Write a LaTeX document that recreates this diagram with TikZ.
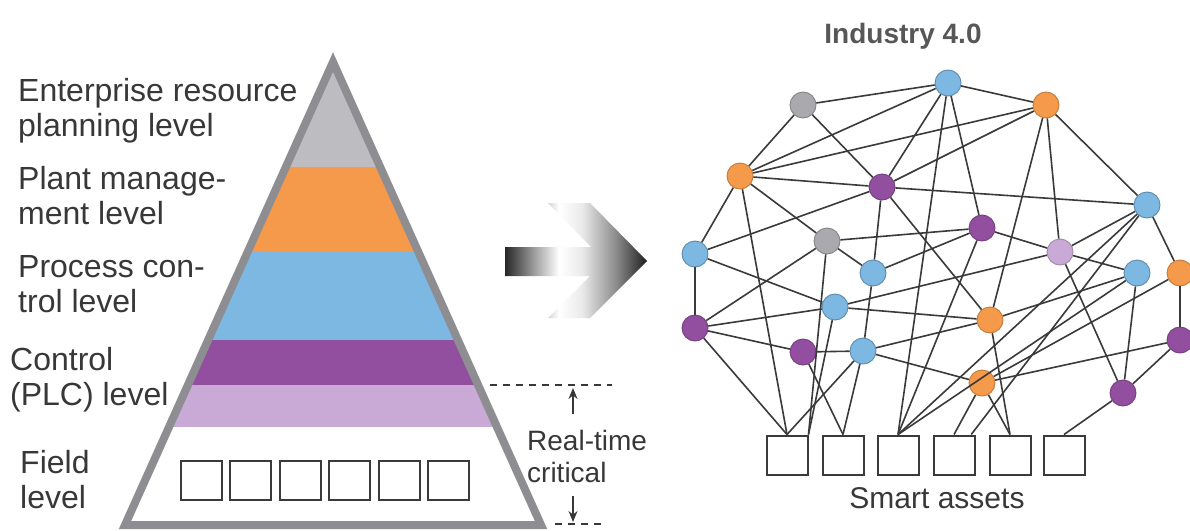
\documentclass[tikz,border=0pt]{standalone}
\usepackage{fontspec}
\setmainfont{Liberation Sans}
\usetikzlibrary{calc,arrows.meta}
\definecolor{pgray}{HTML}{BDBDC1}
\definecolor{pborder}{HTML}{8E8E92}
\definecolor{porange}{HTML}{F5994B}
\definecolor{pblue}{HTML}{7DB8E3}
\definecolor{ppurple}{HTML}{924E9F}
\definecolor{plav}{HTML}{C9A9D5}
\definecolor{txt}{HTML}{383838}
\definecolor{edge}{HTML}{3A3A3A}
\pgfdeclarehorizontalshading{arrowshade}{100bp}{color(0bp)=(black!85); color(25bp)=(black!85); color(36bp)=(black!35); color(44bp)=(white); color(52bp)=(white!92!black); color(64bp)=(black!45); color(75bp)=(black!88); color(100bp)=(black!88)}
\tikzset{
  lbl/.style={font=\fontsize{32}{35}\selectfont, text=txt, align=left, inner sep=0pt},
  nd/.style={circle, minimum size=26pt, inner sep=0pt, line width=0.9pt},
  ngray/.style={nd, fill=pgray!90!black, draw=pgray!70!black},
  nblue/.style={nd, fill=pblue, draw=pblue!75!black},
  norange/.style={nd, fill=porange, draw=porange!80!black},
  npurple/.style={nd, fill=ppurple, draw=ppurple!80!black},
  nlav/.style={nd, fill=plav, draw=plav!80!black},
  asset/.style={draw=edge, line width=2pt, fill=white, minimum width=41pt, minimum height=39pt, inner sep=0pt},
  ln/.style={draw=edge, line width=1.6pt},
  dash line/.style={draw=txt, line width=1.3pt, dash pattern=on 7pt off 6pt},
  rt arrow/.style={draw=txt, line width=1.3pt, -{Stealth[length=11pt,width=9pt]}}
}
\begin{document}
\begin{tikzpicture}[x=1pt,y=-1pt]
\useasboundingbox (0,0) rectangle (1190,530);
\fill[white] (0,0) rectangle (1190,530);

% ---------- pyramid ----------
\begin{scope}
  \clip (333,62) -- (125,525) -- (541,525) -- cycle;
  \fill[pgray]   (100,40)  rectangle (560,167);
  \fill[porange] (100,167) rectangle (560,252);
  \fill[pblue]   (100,252) rectangle (560,340);
  \fill[ppurple] (100,340) rectangle (560,385);
  \fill[plav]    (100,385) rectangle (560,427);
\end{scope}
\draw[pborder, line width=8pt, line join=miter] (333,62) -- (125,525) -- (541,525) -- cycle;

\foreach \i in {0,...,5}{
  \node[asset] (f\i) at ({201+49.5*\i},480) {};
}

% ---------- level labels ----------
\node[lbl, anchor=north west] (l1) at (18,78)  {Enterprise resource\\planning level};
\node[lbl, anchor=north west] (l2) at (18,166) {Plant manage-\\ment level};
\node[lbl, anchor=north west] (l3) at (18,255) {Process con-\\trol level};
\node[lbl, anchor=north west] (l4) at (10,347) {Control\\(PLC) level};
\node[lbl, anchor=north west] (l5) at (20,450) {Field\\level};

% ---------- real-time critical ----------
\coordinate (d1a) at (490,385);
\coordinate (d1b) at (612,385);
\coordinate (d2a) at (555,524);
\coordinate (d2b) at (606,524);
\draw[dash line] (d1a) -- (d1b);
\draw[dash line] (d2a) -- (d2b);
\node[font=\fontsize{28}{32}\selectfont, text=txt, align=left, anchor=west, inner sep=0pt] (rt) at (527,456) {Real-time\\critical};
\coordinate (u0) at (573,414);
\coordinate (u1) at (573,388);
\coordinate (v0) at (573,496);
\coordinate (v1) at (573,522);
\draw[rt arrow] (u0) -- (u1);
\draw[rt arrow] (v0) -- (v1);

% ---------- big arrow ----------
\shade[shading=arrowshade] (505,247) -- (591,247) -- (548,203) -- (590,203) -- (647,261) -- (590,318) -- (548,318) -- (590,276) -- (505,276) -- cycle;

% ---------- Industry 4.0 ----------
\node[font=\fontsize{28}{32}\selectfont\bfseries, text=black!66] (title) at (903,36) {Industry 4.0};

\node[ngray]   (A) at (803,105) {};
\node[nblue]   (B) at (948,83) {};
\node[norange] (C) at (1046,105) {};
\node[norange] (D) at (740,176) {};
\node[npurple] (E) at (882,187) {};
\node[nblue]   (F) at (1147,205) {};
\node[ngray]   (G) at (827,241) {};
\node[npurple] (H) at (982,228) {};
\node[nlav]    (I) at (1060,252) {};
\node[nblue]   (J) at (695,254) {};
\node[nblue]   (K) at (873,273) {};
\node[nblue]   (L) at (1137,273) {};
\node[norange] (M) at (1180,273) {};
\node[nblue]   (N) at (835,307) {};
\node[norange] (O) at (990,320) {};
\node[npurple] (P) at (695,328) {};
\node[npurple] (Q) at (803,352) {};
\node[nblue]   (R) at (863,351) {};
\node[npurple] (S) at (1180,340) {};
\node[norange] (T) at (982,383) {};
\node[npurple] (U) at (1123,393) {};

\foreach \i/\x in {1/787,2/843,3/898,4/954,5/1010,6/1064}{
  \node[asset] (b\i) at (\x,455) {};
}
\node[font=\fontsize{30}{34}\selectfont, text=txt] (sa) at (937,498) {Smart assets};

% edges
\foreach \a/\b in {A/B,A/D,A/E,B/C,B/D,B/E,B/H,C/D,C/E,C/F,C/I,C/O,D/E,D/G,D/J,
  E/F,E/J,E/K,E/O,F/I,F/M,G/H,G/K,G/P,H/I,H/K,I/L,I/N,I/U,L/O,L/U,M/S,M/T,
  N/J,N/P,N/O,O/R,P/J,P/Q,Q/R,R/K,R/T,S/T,S/U}{
  \draw[ln] (\a) -- (\b);
}
\foreach \a/\b in {B/b3,D/b1,P/b1,R/b1,Q/b2,R/b2,H/b3,F/b3,L/b3,T/b4,T/b5,O/b5,U/b6}{
  \draw[ln] (\a) -- (\b.north);
}
\draw[ln] (G) -- (b1.north east);
\draw[ln] (N) -- (b1.north east);
\draw[ln] (F) -- ($(b4.north)!0.8!(b4.north east)$);
\end{tikzpicture}
\end{document}
